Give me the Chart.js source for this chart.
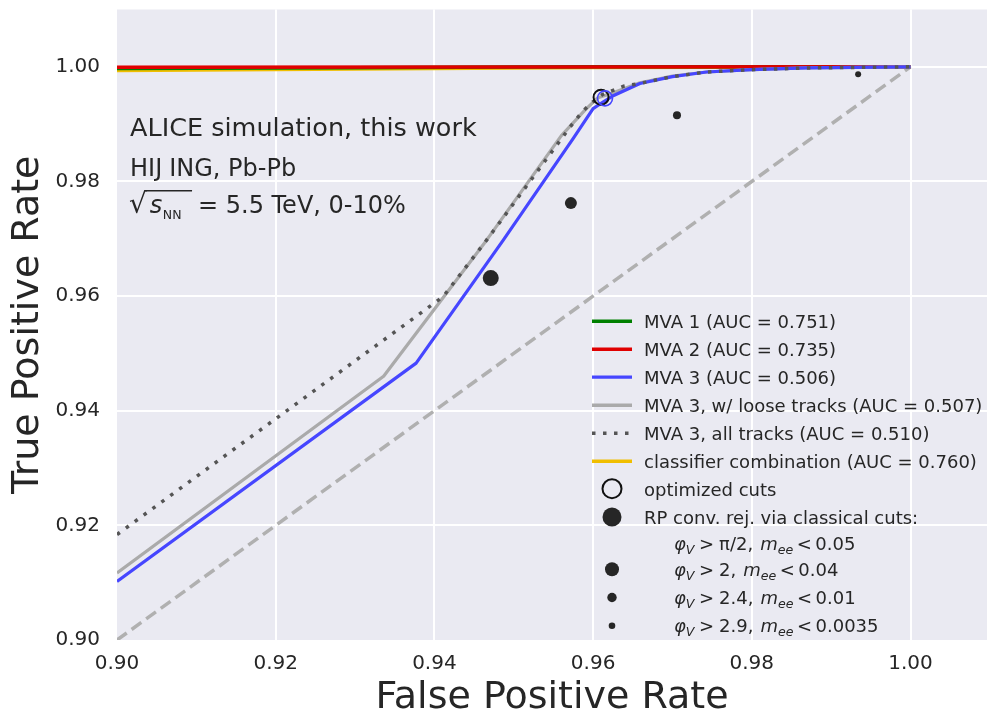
<!DOCTYPE html>
<html><head><meta charset="utf-8">
<script src="https://cdn.jsdelivr.net/npm/chart.js@4.4.1/dist/chart.umd.min.js"></script>
<style>html,body{margin:0;padding:0;background:#fff;overflow:hidden;}canvas{display:block;}</style>
</head><body>
<canvas id="c" width="987" height="713"></canvas>
<script>
// ---------- data ----------
const xTicks = [0.90, 0.92, 0.94, 0.96, 0.98, 1.00];
const yTicks = [0.90, 0.92, 0.94, 0.96, 0.98, 1.00];

const mva1Fpr = [0.900, 0.930, 0.950, 0.960, 1.000];
const mva1Tpr = [0.9997, 0.99985, 0.99995, 1.0000, 1.0000];

const mva2Fpr = [0.900, 0.950, 1.000];
const mva2Tpr = [0.99993, 0.99996, 1.0000];

const combFpr = [0.900, 0.930, 0.960, 1.000];
const combTpr = [0.99935, 0.9996, 0.9999, 1.0000];

const mva3Fpr = [0.9000, 0.9377, 0.9487, 0.9575, 0.9600, 0.9613, 0.9626, 0.9659, 0.9700, 0.9743, 0.9800, 0.9869, 0.9930, 1.0000];
const mva3Tpr = [0.9102, 0.9483, 0.9698, 0.9875, 0.9927, 0.9939, 0.9950, 0.9971, 0.9983, 0.9991, 0.9995, 0.9998, 0.9999, 1.0000];

const looseFpr = [0.9000, 0.9336, 0.9466, 0.9560, 0.9590, 0.9606, 0.9626, 0.9659, 0.9700, 0.9743, 0.9800, 0.9869, 0.9930, 1.0000];
const looseTpr = [0.9117, 0.9460, 0.9698, 0.9880, 0.9925, 0.9946, 0.9955, 0.9972, 0.9984, 0.9991, 0.9995, 0.9998, 0.9999, 1.0000];

const allFpr = [0.9000, 0.9411, 0.9466, 0.9571, 0.9586, 0.9598, 0.9612, 0.9638, 0.9659, 0.9700, 0.9743, 0.9800, 0.9869, 0.9930, 1.0000];
const allTpr = [0.9184, 0.9599, 0.9698, 0.9895, 0.9921, 0.9937, 0.9952, 0.9966, 0.9971, 0.9983, 0.9991, 0.9995, 0.9998, 0.9999, 1.0000];

const diagFpr = [0.90, 1.00];
const diagTpr = [0.90, 1.00];

const optFpr = [0.9610, 0.9615];
const optTpr = [0.9947, 0.9945];

const cutFpr = [0.9471, 0.9572, 0.97057, 0.9934];
const cutTpr = [0.96315, 0.97622, 0.99155, 0.99869];

const legendLabels = [
  'MVA 1 (AUC = 0.751)',
  'MVA 2 (AUC = 0.735)',
  'MVA 3 (AUC = 0.506)',
  'MVA 3, w/ loose tracks (AUC = 0.507)',
  'MVA 3, all tracks (AUC = 0.510)',
  'classifier combination (AUC = 0.760)',
  'optimized cuts',
  'RP conv. rej. via classical cuts:'
];
const cutPhi = ['\u03C0/2', '2', '2.4', '2.9'];
const cutMee = ['0.05', '0.04', '0.01', '0.0035'];

const annot1 = 'ALICE simulation, this work';
const annot2a = 'HIJ';
const annot2b = 'ING, Pb-Pb';
const annot3 = '= 5.5 TeV, 0-10%';

// ---------- helpers ----------
const pts = (xs, ys) => xs.map((x, i) => ({x: x, y: ys[i]}));
const FONT = "'DejaVu Sans', sans-serif";
const TXT = '#262626';
const C = {green:'#008000', red:'#e00000', blue:'#4646ff', gray:'#aaaaaa', dot:'#555555', yellow:'#f0be00', dark:'#262626', diag:'#b0b0b0'};

function lineDS(data, color, width, order, dash) {
  return {data: data, showLine: true, borderColor: color, backgroundColor: color, borderWidth: width,
          pointRadius: 0, pointHoverRadius: 0, tension: 0, fill: false, order: order,
          borderDash: dash || [], borderCapStyle: 'butt', borderJoinStyle: 'round'};
}

const datasets = [
  lineDS(pts(diagFpr, diagTpr), C.diag, 3.5, 20, [12, 6]),
  lineDS(pts(combFpr, combTpr), C.yellow, 3.5, 19),
  lineDS(pts(mva1Fpr, mva1Tpr), C.green, 3.5, 18),
  lineDS(pts(mva2Fpr, mva2Tpr), C.red, 3.5, 17),
  lineDS(pts(looseFpr, looseTpr), C.gray, 3.2, 16),
  lineDS(pts(mva3Fpr, mva3Tpr), C.blue, 3.2, 15),
  lineDS(pts(allFpr, allTpr), C.dot, 3.5, 14, [3.5, 7.5]),
  {data: pts(optFpr, optTpr), showLine: false, pointRadius: [7.5, 7.5], pointHoverRadius: 0,
   pointBorderColor: ['#111111', C.blue], pointBackgroundColor: 'rgba(0,0,0,0)', pointBorderWidth: [2, 1.6], order: 2},
  {data: pts(cutFpr, cutTpr), showLine: false, pointRadius: [8, 6, 4, 3], pointHoverRadius: 0,
   pointBackgroundColor: C.dark, pointBorderColor: C.dark, pointBorderWidth: 0, order: 1}
];

const bgPlugin = {
  id: 'bg',
  afterLayout(chart) {
    // make the plot area run to the right edge of the canvas
    const a = chart.chartArea, x = chart.scales.x;
    const target = chart.width;
    if (a.right !== target) {
      a.right = target; a.width = a.right - a.left;
      x.right = target; x.width = target - x.left;
      x.configure();
    }
  },
  beforeDraw(chart) {
    const {ctx, chartArea: a} = chart;
    ctx.save();
    ctx.fillStyle = '#ffffff';
    ctx.fillRect(0, 0, chart.width, chart.height);
    ctx.fillStyle = '#EAEAF2';
    ctx.fillRect(a.left, a.top, a.right - a.left, a.bottom - a.top);
    ctx.restore();
  }
};

function drawRuns(ctx, x, y, runs) {
  for (const r of runs) {
    ctx.font = r.f;
    ctx.fillText(r.t, x, y + (r.dy || 0));
    x += ctx.measureText(r.t).width + (r.gap || 0);
  }
  return x;
}

const overlayPlugin = {
  id: 'overlay',
  afterDraw(chart) {
    const ctx = chart.ctx;
    ctx.save();
    ctx.fillStyle = TXT;
    ctx.textBaseline = 'alphabetic';
    ctx.textAlign = 'left';
    // annotation
    ctx.font = "25.5px " + FONT;
    ctx.fillText(annot1, 130, 136);
    ctx.font = "24px " + FONT;
    ctx.fillText(annot2a, 130, 176);
    const hw = ctx.measureText(annot2a).width;
    ctx.fillText(annot2b, 130 + hw + 7, 176);
    // sqrt(s_NN)
    ctx.font = "28px " + FONT;
    const rad = '\u221A';
    ctx.fillText(rad, 129, 213);
    const rm = ctx.measureText(rad);
    const rTop = 213 - rm.actualBoundingBoxAscent;
    const rEnd = 129 + rm.width;
    ctx.font = "italic 24px " + FONT;
    ctx.fillText('s', rEnd + 3, 213);
    const sw = ctx.measureText('s').width;
    ctx.font = "12.5px " + FONT;
    ctx.fillText('NN', rEnd + 3 + sw + 0.5, 218.5);
    const nw = ctx.measureText('NN').width;
    ctx.strokeStyle = TXT;
    ctx.lineWidth = 1.6;
    ctx.beginPath();
    ctx.moveTo(rEnd - 1.5, rTop + 0.8);
    ctx.lineTo(rEnd + 3 + sw + nw + 11, rTop + 0.8);
    ctx.stroke();
    ctx.font = "24px " + FONT;
    ctx.fillText(annot3, 198, 213);

    // legend
    const hx1 = 592, hx2 = 632, tx = 644;
    const base = [327.7, 355.7, 383.7, 411.7, 439.7, 467.7, 495.7, 523.5];
    const handles = [
      {c: C.green, w: 3.5}, {c: C.red, w: 3.5}, {c: C.blue, w: 3.2},
      {c: C.gray, w: 3.5}, {c: C.dot, w: 3.5, d: [3.5, 7.5]}, {c: C.yellow, w: 3.5}
    ];
    handles.forEach((h, i) => {
      const y = base[i] - 6.5;
      ctx.strokeStyle = h.c; ctx.lineWidth = h.w; ctx.lineCap = 'butt';
      ctx.setLineDash(h.d || []);
      ctx.beginPath(); ctx.moveTo(hx1, y); ctx.lineTo(hx2, y); ctx.stroke();
    });
    ctx.setLineDash([]);
    ctx.font = "18px " + FONT;
    ctx.fillStyle = TXT;
    legendLabels.forEach((t, i) => ctx.fillText(t, tx, base[i]));
    // open circle marker
    ctx.strokeStyle = '#111111'; ctx.lineWidth = 2;
    ctx.beginPath(); ctx.arc(612, base[6] - 7, 9.5, 0, Math.PI * 2); ctx.stroke();
    // filled markers
    const mk = [[612, base[7] - 6.5, 9.5], [612, 569.3, 7], [612, 597.5, 4.7], [612, 625.7, 3.3]];
    ctx.fillStyle = C.dark;
    mk.forEach(m => { ctx.beginPath(); ctx.arc(m[0], m[1], m[2], 0, Math.PI * 2); ctx.fill(); });
    // math rows
    ctx.fillStyle = TXT;
    const mb = [550, 576.3, 604, 632.3];
    const it = "italic 18px " + FONT, rg = "18px " + FONT, sb = "italic 12.6px " + FONT;
    cutPhi.forEach((p, i) => {
      drawRuns(ctx, 674, mb[i], [
        {t: '\u03C6', f: it, gap: 0},
        {t: 'V', f: sb, dy: 4, gap: 4.5},
        {t: '>', f: rg, gap: 5},
        {t: p + ',', f: rg, gap: 7},
        {t: 'm', f: it, gap: 0},
        {t: 'ee', f: sb, dy: 4, gap: 3.5},
        {t: '<', f: rg, gap: 3.5},
        {t: cutMee[i], f: rg}
      ]);
    });
    ctx.restore();
  }
};

const gridColor = (ctx) => (ctx.tick && Math.abs(ctx.tick.value - 0.9) < 1e-9) ? 'rgba(0,0,0,0)' : '#ffffff';

new Chart(document.getElementById('c'), {
  type: 'scatter',
  data: {datasets: datasets},
  options: {
    responsive: false, animation: false, devicePixelRatio: 1,
    events: [],
    layout: {padding: {top: 8, right: 0, left: 0, bottom: 0}},
    plugins: {legend: {display: false}, tooltip: {enabled: false}},
    scales: {
      x: {
        type: 'linear', min: 0.9, max: 1.00964,
        afterBuildTicks: s => { s.ticks = xTicks.map(v => ({value: v})); },
        afterFit: s => { s.height = 73; s.paddingLeft = 0; s.paddingRight = 0; },
        grid: {color: gridColor, lineWidth: 2, drawTicks: false},
        border: {display: false},
        ticks: {font: {family: FONT, size: 20}, color: TXT, padding: 12, maxRotation: 0, autoSkip: false,
                callback: v => Number(v).toFixed(2)},
        title: {display: true, text: 'False Positive Rate', color: TXT,
                font: {family: FONT, size: 38, lineHeight: 1}, padding: {top: 0, bottom: -4}}
      },
      y: {
        type: 'linear', min: 0.9, max: 1.01,
        afterBuildTicks: s => { s.ticks = yTicks.map(v => ({value: v})); },
        afterFit: s => { s.width = 117; s.paddingTop = 0; s.paddingBottom = 0; },
        grid: {color: gridColor, lineWidth: 2, drawTicks: false},
        border: {display: false},
        ticks: {font: {family: FONT, size: 20}, color: TXT, padding: 17, autoSkip: false,
                callback: v => Number(v).toFixed(2)},
        title: {display: true, text: 'True Positive Rate', color: TXT,
                font: {family: FONT, size: 38, lineHeight: 1}, padding: {top: 9, bottom: 0}}
      }
    }
  },
  plugins: [bgPlugin, overlayPlugin]
});
</script>
</body></html>
